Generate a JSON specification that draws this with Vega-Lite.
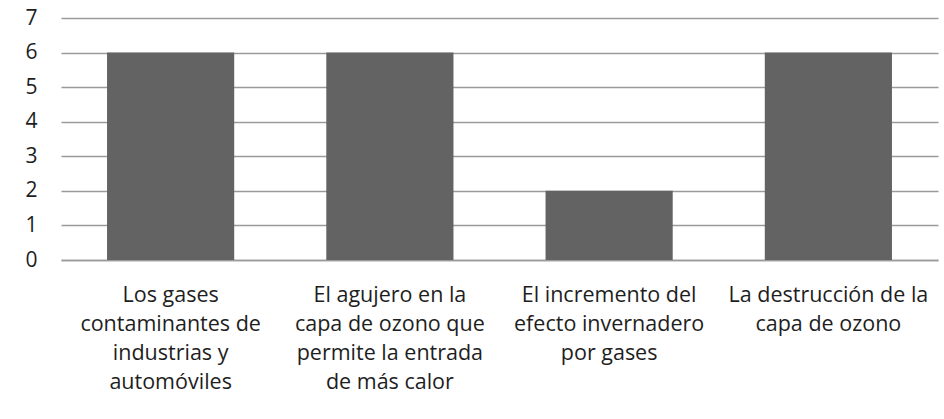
{
  "$schema": "https://vega.github.io/schema/vega-lite/v6.json",
  "autosize": {"type": "none"},
  "width": 877,
  "height": 242,
  "padding": {"left": 61, "top": 18, "right": 6, "bottom": 159},
  "background": "white",
  "data": {
    "values": [
      {"categoria": "Los gases\ncontaminantes de\nindustrias y\nautomóviles", "valor": 6},
      {"categoria": "El agujero en la\ncapa de ozono que\npermite la entrada\nde más calor", "valor": 6},
      {"categoria": "El incremento del\nefecto invernadero\npor gases", "valor": 2},
      {"categoria": "La destrucción de la\ncapa de ozono", "valor": 6}
    ]
  },
  "mark": {"type": "bar", "color": "#636363"},
  "encoding": {
    "x": {
      "field": "categoria",
      "type": "nominal",
      "sort": null,
      "scale": {"paddingInner": 0.42, "paddingOuter": 0.21},
      "axis": {
        "title": null,
        "labelAngle": 0,
        "labelExpr": "split(datum.label, '\\n')",
        "labelFont": "Open Sans",
        "labelFontSize": 21.5,
        "labelLineHeight": 29,
        "labelColor": "#1e1e1e",
        "labelPadding": 24,
        "ticks": false,
        "domainColor": "#9a9a9a",
        "domainWidth": 1.5,
        "labelLimit": 300
      }
    },
    "y": {
      "field": "valor",
      "type": "quantitative",
      "scale": {"domain": [0, 7], "nice": false},
      "axis": {
        "title": null,
        "values": [0, 1, 2, 3, 4, 5, 6, 7],
        "labelFont": "Open Sans",
        "labelFontSize": 21,
        "labelColor": "#1e1e1e",
        "labelPadding": 24,
        "ticks": false,
        "domain": false,
        "gridColor": "#9a9a9a",
        "gridWidth": 1.5
      }
    }
  },
  "config": {"view": {"stroke": null}}
}
